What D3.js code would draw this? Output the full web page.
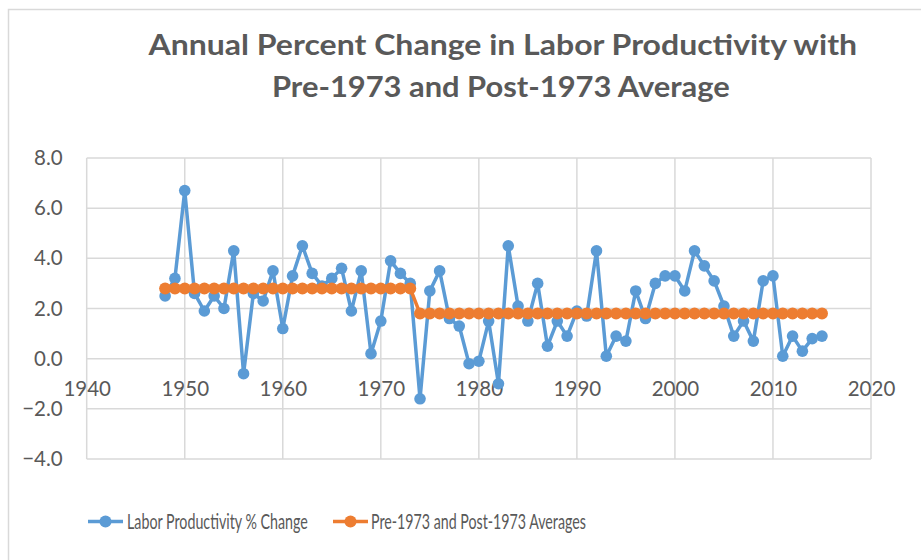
<!DOCTYPE html>
<html><head><meta charset="utf-8">
<script src="https://cdn.jsdelivr.net/npm/d3@7"></script>
<style>
html,body{margin:0;padding:0;background:#fff;}
svg{display:block;}
text{font-family:Lato,"Open Sans",sans-serif;fill:#595959;}
</style></head>
<body><svg id="c" width="921" height="560"></svg>
<script>
const years = [1948,1949,1950,1951,1952,1953,1954,1955,1956,1957,
 1958,1959,1960,1961,1962,1963,1964,1965,1966,1967,
 1968,1969,1970,1971,1972,1973,1974,1975,1976,1977,
 1978,1979,1980,1981,1982,1983,1984,1985,1986,1987,
 1988,1989,1990,1991,1992,1993,1994,1995,1996,1997,
 1998,1999,2000,2001,2002,2003,2004,2005,2006,2007,
 2008,2009,2010,2011,2012,2013,2014,2015];
const productivity = [2.5,3.2,6.7,2.6,1.9,2.5,2.0,4.3,-0.6,2.6,
 2.3,3.5,1.2,3.3,4.5,3.4,2.9,3.2,3.6,1.9,
 3.5,0.2,1.5,3.9,3.4,3.0,-1.6,2.7,3.5,1.6,
 1.3,-0.2,-0.1,1.5,-1.0,4.5,2.1,1.5,3.0,0.5,
 1.5,0.9,1.9,1.7,4.3,0.1,0.9,0.7,2.7,1.6,
 3.0,3.3,3.3,2.7,4.3,3.7,3.1,2.1,0.9,1.5,
 0.7,3.1,3.3,0.1,0.9,0.3,0.8,0.9];
const averages = [2.8,2.8,2.8,2.8,2.8,2.8,2.8,2.8,2.8,2.8,
 2.8,2.8,2.8,2.8,2.8,2.8,2.8,2.8,2.8,2.8,
 2.8,2.8,2.8,2.8,2.8,2.8,1.8,1.8,1.8,1.8,
 1.8,1.8,1.8,1.8,1.8,1.8,1.8,1.8,1.8,1.8,
 1.8,1.8,1.8,1.8,1.8,1.8,1.8,1.8,1.8,1.8,
 1.8,1.8,1.8,1.8,1.8,1.8,1.8,1.8,1.8,1.8,
 1.8,1.8,1.8,1.8,1.8,1.8,1.8,1.8];
const xTicks = [1940,1950,1960,1970,1980,1990,2000,2010,2020];
const yTicks = [-4,-2,0,2,4,6,8];
const titleLines = ["Annual Percent Change in Labor Productivity with","Pre-1973 and Post-1973 Average"];
const seriesNames = ["Labor Productivity % Change","Pre-1973 and Post-1973 Averages"];
const colors = ["#5B9BD5","#ED7D31"];

const svg = d3.select("#c");
svg.append("rect").attr("x",8.5).attr("y",9.5).attr("width",940).attr("height",600)
  .attr("fill","none").attr("stroke","#d9d9d9").attr("stroke-width",1.5);

const x = d3.scaleLinear().domain([1940,2020]).range([86.7,871]);
const y = d3.scaleLinear().domain([-4,8]).range([459,158]);
const grid = "#d9d9d9";

svg.append("g").selectAll("line").data(yTicks).join("line")
  .attr("x1",x(1940)).attr("x2",x(2020)).attr("y1",d=>y(d)).attr("y2",d=>y(d))
  .attr("stroke",grid).attr("stroke-width",1.5);
svg.append("g").selectAll("line").data(xTicks).join("line")
  .attr("x1",d=>x(d)).attr("x2",d=>x(d)).attr("y1",y(8)).attr("y2",y(-4))
  .attr("stroke",grid).attr("stroke-width",1.5);

const ya = svg.append("g").attr("transform",`translate(${x(1940)},0)`)
  .call(d3.axisLeft(y).tickValues(yTicks).tickFormat(d3.format(".1f")).tickSize(0).tickPadding(24));
ya.select(".domain").remove();
ya.selectAll("text").attr("font-size",20.5).style("font-family","Lato").attr("fill","#595959");

const xa = svg.append("g").attr("transform",`translate(0,${y(0)})`)
  .call(d3.axisBottom(x).tickValues(xTicks).tickFormat(d3.format("d")).tickSize(0).tickPadding(23));
xa.select(".domain").remove();
xa.selectAll("text").attr("font-size",20.5).style("font-family","Lato").attr("fill","#595959");

const data1 = years.map((yr,i)=>({yr, v:productivity[i]}));
const data2 = years.map((yr,i)=>({yr, v:averages[i]}));
const line = d3.line().x(d=>x(d.yr)).y(d=>y(d.v));

function drawSeries(data,color,r){
  svg.append("path").datum(data).attr("d",line).attr("fill","none")
    .attr("stroke",color).attr("stroke-width",3.5).attr("stroke-linejoin","round");
  svg.append("g").selectAll("circle").data(data).join("circle")
    .attr("cx",d=>x(d.yr)).attr("cy",d=>y(d.v)).attr("r",r).attr("fill",color);
}
drawSeries(data1,colors[0],5.8);
drawSeries(data2,colors[1],6);

// text fitted to a target width via a horizontal scale transform
function fitText(g, str, cx, by, w, size, weight, anchor){
  const t = g.append("text").attr("font-size",size).attr("font-weight",weight).text(str);
  const len = t.node().getComputedTextLength();
  const s = w/len;
  const x0 = anchor==="middle" ? cx - w/2 : cx;
  t.attr("transform",`translate(${x0},${by}) scale(${s},1)`);
  return t;
}
fitText(svg, titleLines[0], 503, 55, 709, 29, "bold", "middle");
fitText(svg, titleLines[1], 501, 97, 458, 29, "bold", "middle");

const leg = [{x0:88,x1:123,tx:127,tw:181},{x0:333,x1:368,tx:371,tw:215}];
leg.forEach((L,i)=>{
  const ly = 521.5;
  svg.append("line").attr("x1",L.x0).attr("x2",L.x1).attr("y1",ly).attr("y2",ly)
    .attr("stroke",colors[i]).attr("stroke-width",3.5);
  svg.append("circle").attr("cx",(L.x0+L.x1)/2).attr("cy",ly).attr("r",6).attr("fill",colors[i]);
  fitText(svg, seriesNames[i], L.tx, ly+7.5, L.tw, 21.5, "normal", "start");
});
</script></body></html>
